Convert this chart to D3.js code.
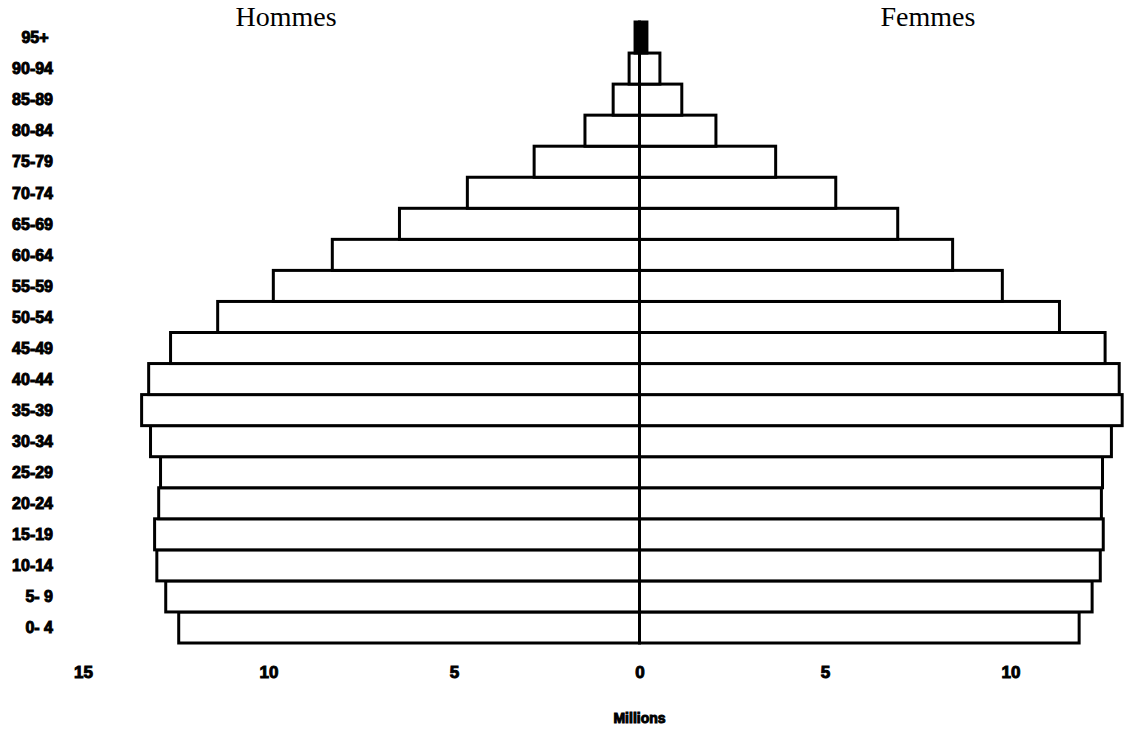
<!DOCTYPE html>
<html>
<head>
<meta charset="utf-8">
<script src="https://cdn.jsdelivr.net/npm/d3@7/dist/d3.min.js"></script>
<style>
  html, body { margin: 0; padding: 0; background: #fff; }
  svg { display: block; }
</style>
</head>
<body>
<svg id="chart" width="1132" height="733"></svg>
<script>
// Age groups (bottom to top)
const ageGroups = ["0- 4","5- 9","10-14","15-19","20-24","25-29","30-34","35-39","40-44","45-49",
                   "50-54","55-59","60-64","65-69","70-74","75-79","80-84","85-89","90-94","95+ "];
// Population in millions
const hommes = [12.42, 12.77, 13.01, 13.07, 12.96, 12.91, 13.18, 13.42, 13.23, 12.64,
                11.37, 9.87, 8.28, 6.47, 4.64, 2.84, 1.47, 0.71, 0.28, 0.12];
const femmes = [11.85, 12.20, 12.42, 12.50, 12.45, 12.48, 12.72, 13.01, 12.93, 12.55,
                11.32, 9.78, 8.44, 6.96, 5.29, 3.67, 2.06, 1.14, 0.55, 0.20];
const xTicks = [-15, -10, -5, 0, 5, 10];
const sideTitles = ["Hommes", "Femmes"];
const xTitle = "Millions";

const svg = d3.select("#chart");

const x = d3.scaleLinear().domain([-15, 0]).range([83, 639.5]);
const y = d3.scaleBand().domain(ageGroups.slice().reverse()).range([22, 643]).padding(0);

const rows = ageGroups.map((a, i) => ({ age: a, h: hommes[i], f: femmes[i] }));

const barStyle = sel => sel
  .attr("stroke", "#000")
  .attr("stroke-width", 3)
  .attr("stroke-linejoin", "miter");

// Men (left)
svg.append("g").selectAll("rect").data(rows).join("rect")
  .attr("x", d => x(-d.h))
  .attr("y", d => y(d.age))
  .attr("width", d => x(0) - x(-d.h))
  .attr("height", y.bandwidth())
  .attr("fill", d => (x(0) - x(-d.h)) < 9 ? "#000" : "#fff")
  .call(barStyle);

// Women (right)
svg.append("g").selectAll("rect").data(rows).join("rect")
  .attr("x", x(0))
  .attr("y", d => y(d.age))
  .attr("width", d => x(d.f) - x(0))
  .attr("height", y.bandwidth())
  .attr("fill", d => (x(d.f) - x(0)) < 9 ? "#000" : "#fff")
  .call(barStyle);

// Central axis
svg.append("line")
  .attr("x1", x(0)).attr("x2", x(0))
  .attr("y1", y.range()[0]).attr("y2", y.range()[1])
  .attr("stroke", "#000").attr("stroke-width", 3);

const sans = "Liberation Sans, Arial, sans-serif";

// Age labels
svg.append("g").selectAll("text").data(rows).join("text")
  .attr("x", 53)
  .attr("y", d => y(d.age) + y.bandwidth() / 2)
  .attr("dy", "0.36em")
  .attr("text-anchor", "end")
  .style("white-space", "pre")
  .attr("font-family", sans)
  .attr("font-weight", "bold")
  .attr("font-size", 16)
  .attr("fill", "#000")
  .attr("stroke", "#000").attr("stroke-width", 1)
  .text(d => d.age);

// X axis ticks
const xAxis = d3.axisBottom(x).tickValues(xTicks).tickSize(0).tickPadding(0)
  .tickFormat(d => Math.abs(d));
const gx = svg.append("g").attr("transform", "translate(0,666)").call(xAxis);
gx.select(".domain").remove();
gx.selectAll("text")
  .attr("font-family", sans)
  .attr("font-weight", "bold")
  .attr("font-size", 17)
  .attr("fill", "#000")
  .attr("stroke", "#000").attr("stroke-width", 1);

// X title
svg.append("text")
  .attr("x", x(0)).attr("y", 723)
  .attr("text-anchor", "middle")
  .attr("font-family", sans)
  .attr("font-weight", "bold")
  .attr("font-size", 14)
  .attr("stroke", "#000").attr("stroke-width", 1)
  .text(xTitle);

// Side titles
svg.append("g").selectAll("text").data(sideTitles).join("text")
  .attr("x", (d, i) => i === 0 ? 286 : 928)
  .attr("y", 26)
  .attr("text-anchor", "middle")
  .attr("font-family", "Liberation Serif, Times New Roman, serif")
  .attr("font-size", 28)
  .attr("fill", "#000")
  .text(d => d);
</script>
</body>
</html>
